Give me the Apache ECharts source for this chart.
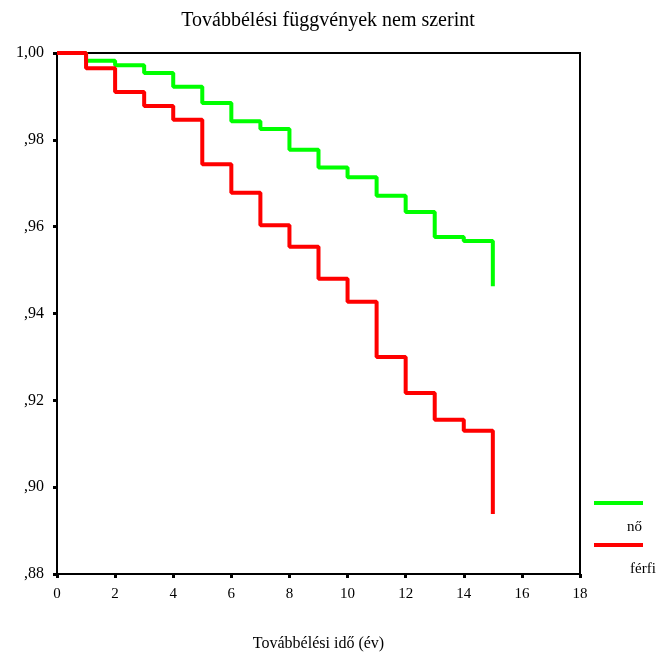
<!DOCTYPE html>
<html><head><meta charset="utf-8">
<script src="https://cdn.jsdelivr.net/npm/echarts@6/dist/echarts.min.js"></script>
<style>html,body{margin:0;padding:0;background:#fff}#c{width:656px;height:654px}</style>
</head><body><div id="c"></div>
<script>
const times = [0,1,2,3,4,5,6,7,8,9,10,11,12,13,14,15];
const noValues = [1.0,0.9982,0.9972,0.9954,0.9922,0.9885,0.9843,0.9825,0.9777,0.9736,0.9714,0.9671,0.9634,0.9576,0.9567,0.9463];
const ferfiValues = [1.0,0.9965,0.9910,0.9878,0.9846,0.9744,0.9678,0.9603,0.9554,0.9480,0.9427,0.9300,0.9217,0.9155,0.9130,0.8938];
const seriesNames = ['nő','férfi'];
const titleText = 'Továbbélési függvények nem szerint';
const xName = 'Továbbélési idő (év)';

const font = '"Liberation Serif", "Times New Roman", serif';
const chart = echarts.init(document.getElementById('c'));
chart.setOption({
  animation: false,
  backgroundColor: '#fff',
  title: {text: titleText, left: 'center', top: 6, textStyle: {fontFamily: font, fontSize: 20, fontWeight: 'normal', color: '#000'}},
  grid: {left: 57, top: 53, right: 76, bottom: 80, show: true, borderColor: '#000', borderWidth: 2, backgroundColor: 'transparent', outerBoundsMode: 'none', containLabel: false},
  xAxis: {
    type: 'value', min: 0, max: 18, interval: 2,
    name: xName, nameLocation: 'middle', nameGap: 62,
    nameTextStyle: {fontFamily: font, fontSize: 16, color: '#000'},
    axisLine: {lineStyle: {color: '#000', width: 2}},
    axisTick: {show: true, length: 4, lineStyle: {color: '#000', width: 3}},
    axisLabel: {fontFamily: font, fontSize: 15, color: '#000', margin: 13},
    splitLine: {show: false}
  },
  yAxis: {
    type: 'value', min: 0.88, max: 1.0, interval: 0.02,
    axisLine: {show: true, lineStyle: {color: '#000', width: 2}},
    axisTick: {show: true, length: 4, lineStyle: {color: '#000', width: 3}},
    axisLabel: {fontFamily: font, fontSize: 16, color: '#000', margin: 13,
      formatter: v => v >= 0.9999 ? '1,00' : ',' + v.toFixed(2).slice(2)},
    splitLine: {show: false}
  },
  series: [
    {name: seriesNames[0], type: 'line', step: 'end', showSymbol: false, data: times.map((t, i) => [t, noValues[i]]), lineStyle: {color: '#00ff00', width: 4}, itemStyle: {color: '#00ff00'}, z: 3},
    {name: seriesNames[1], type: 'line', step: 'end', showSymbol: false, data: times.map((t, i) => [t, ferfiValues[i]]), lineStyle: {color: '#ff0000', width: 4}, itemStyle: {color: '#ff0000'}, z: 4}
  ],
  graphic: [
    {type: 'line', shape: {x1: 594, y1: 503, x2: 643, y2: 503}, style: {stroke: '#00ff00', lineWidth: 4}},
    {type: 'text', left: 627, top: 520, style: {text: seriesNames[0], font: '15px ' + font, fill: '#000'}},
    {type: 'line', shape: {x1: 594, y1: 545, x2: 643, y2: 545}, style: {stroke: '#ff0000', lineWidth: 4}},
    {type: 'text', left: 630, top: 562, style: {text: seriesNames[1], font: '15px ' + font, fill: '#000'}}
  ]
});
</script></body></html>
